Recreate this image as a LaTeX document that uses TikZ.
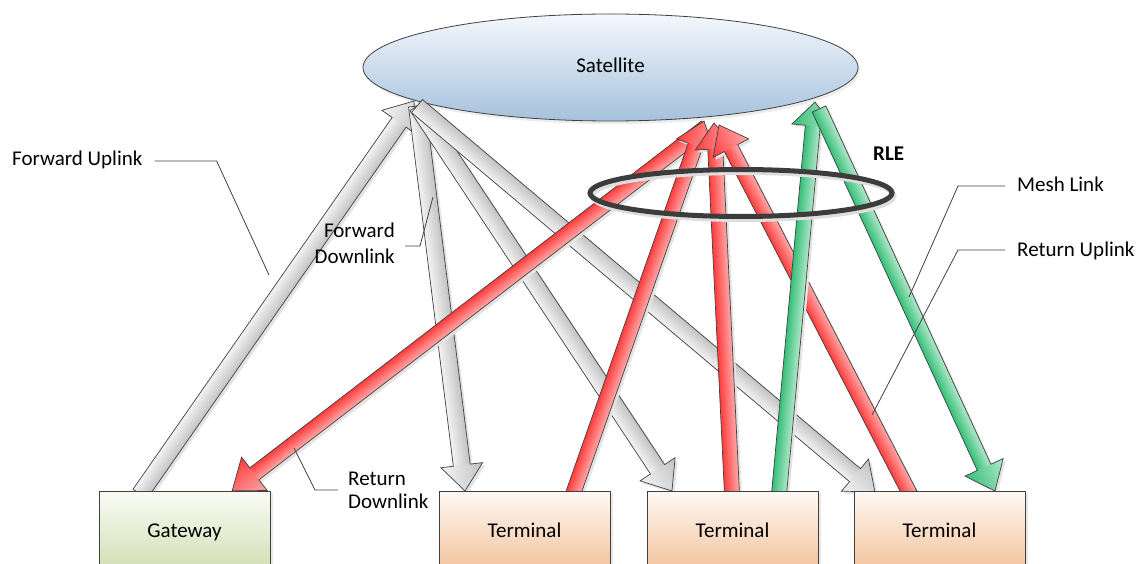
\documentclass[tikz,border=0pt]{standalone}
\usepackage{fontspec}
\setmainfont{Carlito}
\usetikzlibrary{calc,shapes.geometric,shadows}

\definecolor{edge}{HTML}{404040}
\definecolor{ringc}{HTML}{3C3C3C}
\definecolor{satTop}{HTML}{F4F8FC}
\definecolor{satBot}{HTML}{A6C1DD}
\definecolor{gwTop}{HTML}{FAFBF5}
\definecolor{gwBot}{HTML}{D2DFB4}
\definecolor{tTop}{HTML}{FEF9F4}
\definecolor{tBot}{HTML}{F3C29B}
\definecolor{grayA}{HTML}{C2C2C2}
\definecolor{grayB}{HTML}{F3F3F3}
\definecolor{redA}{HTML}{FF3C3C}
\definecolor{redB}{HTML}{FFAAAA}
\definecolor{grnA}{HTML}{35BF78}
\definecolor{grnB}{HTML}{B2E8CA}

% Block arrow: #1 fill family, #2 tail coordinate, #3 tip coordinate,
% #4 shaft width, #5 head width, #6 head length.
% The family provides "<name> up" and "<name> down" shadings so that
% the gradient runs the same way on screen whatever the arrow direction.
\newcommand\blockarrow[6]{%
  \pgfmathanglebetweenpoints{\pgfpointanchor{#2}{center}}{\pgfpointanchor{#3}{center}}%
  \let\baAng\pgfmathresult
  \ifdim\baAng pt>180pt \def\baDir{down}\else\def\baDir{up}\fi
  \tikzset{bafill/.style/.expanded={#1 \baDir}}%
  \pgfpointdiff{\pgfpointanchor{#2}{center}}{\pgfpointanchor{#3}{center}}%
  \pgfgetlastxy{\baDx}{\baDy}%
  \pgfmathsetmacro\baLen{veclen(\baDx,\baDy)}%
  \pgfmathsetmacro\baNeck{\baLen-#6}%
  \pgfmathsetmacro\baS{#4/2}%
  \pgfmathsetmacro\baH{#5/2}%
  \begin{scope}[transform canvas={shift={($(#2)+(2.5,2.5)$)},rotate=\baAng}]
    \fill[black!11] (0pt,-\baS pt) -- (\baNeck pt,-\baS pt) -- (\baNeck pt,-\baH pt)
      -- (\baLen pt,0pt) -- (\baNeck pt,\baH pt) -- (\baNeck pt,\baS pt) -- (0pt,\baS pt) -- cycle;
  \end{scope}
  \begin{scope}[transform canvas={shift={(#2)},rotate=\baAng}]
    \shade[bafill] (0pt,-\baS pt) rectangle (\baNeck pt+0.5pt,\baS pt);
    \shade[bafill] (\baNeck pt,-\baH pt) -- (\baLen pt,0pt) -- (\baNeck pt,\baH pt) -- cycle;
    \draw[aedge] (0pt,-\baS pt) -- (\baNeck pt,-\baS pt) -- (\baNeck pt,-\baH pt)
      -- (\baLen pt,0pt) -- (\baNeck pt,\baH pt) -- (\baNeck pt,\baS pt) -- (0pt,\baS pt) -- cycle;
  \end{scope}
}

\tikzset{
  aedge/.style={draw=edge, line width=0.7pt, line join=miter},
  gray up/.style={top color=grayB, bottom color=grayA},
  gray down/.style={top color=grayA, bottom color=grayB},
  red up/.style={top color=redA, bottom color=redB},
  red down/.style={top color=redB, bottom color=redA},
  green up/.style={top color=grnA, bottom color=grnB},
  green down/.style={top color=grnB, bottom color=grnA},
  leader/.style={draw=edge, line width=0.8pt},
  lbl/.style={inner sep=0pt, text=black},
  box/.style={draw=edge, line width=0.8pt, minimum width=171pt, minimum height=80pt,
    inner sep=0pt, text height=13pt, text depth=0pt,
    drop shadow={shadow xshift=3pt, shadow yshift=-2pt, opacity=0.18}},
  gwbox/.style={box, top color=gwTop, bottom color=gwBot},
  tbox/.style={box, top color=tTop, bottom color=tBot},
}

\begin{document}
\begin{tikzpicture}[x=1pt, y=-1pt, font=\fontsize{21}{25}\selectfont]
\useasboundingbox (0,0) rectangle (1138,564);

% satellite
\node[ellipse, draw=edge, line width=0.8pt, top color=satTop, bottom color=satBot,
  minimum width=495pt, minimum height=107pt, inner sep=0pt, text height=11pt, text depth=0pt,
  drop shadow={shadow xshift=2pt, shadow yshift=-3pt, opacity=0.15}]
  (sat) at (610.5,67.5) {Satellite};

% ground stations (positions only; drawn after the links)
\coordinate (gwC) at (184.5,531);
\coordinate (t1C) at (524.5,531);
\coordinate (t2C) at (732.5,531);
\coordinate (t3C) at (939.5,531);

% link end points
\coordinate (fuTail) at (140,494);
\coordinate (fuTip)  at (414,101);
\coordinate (fdTail) at (417,106);
\coordinate (fd1Tip) at (465,491);
\coordinate (fd2Tip) at (672,491);
\coordinate (fd3Tip) at (875,492);
\coordinate (ru1Tail) at (573,494);
\coordinate (ru2Tail) at (732,494);
\coordinate (ru3Tail) at (910,494);
\coordinate (ru1Tip) at (704,121);
\coordinate (ru2Tip) at (714,123);
\coordinate (ru3Tip) at (719,125);
\coordinate (rdTail) at (706,127);
\coordinate (rdTip)  at (232,491);
\coordinate (mlTail) at (779,494);
\coordinate (mlTip)  at (815,102);
\coordinate (mdTail) at (819,109);
\coordinate (mdTip)  at (995,491);

% forward links
\blockarrow{gray}{fuTail}{fuTip}{17}{42}{26}
\blockarrow{gray}{fdTail}{fd1Tip}{17}{42}{26}
\blockarrow{gray}{fdTail}{fd2Tip}{17}{42}{26}
\blockarrow{gray}{fdTail}{fd3Tip}{17}{42}{26}

% return links
\blockarrow{red}{rdTail}{rdTip}{15}{42}{28}
\blockarrow{red}{ru1Tail}{ru1Tip}{15}{40}{26}
\blockarrow{red}{ru2Tail}{ru2Tip}{15}{40}{26}
\blockarrow{red}{ru3Tail}{ru3Tip}{15}{40}{26}

% mesh links
\blockarrow{green}{mlTail}{mlTip}{15}{42}{24}
\blockarrow{green}{mdTail}{mdTip}{15}{42}{26}

% ground stations
\node[gwbox] (gw) at (gwC) {Gateway};
\node[tbox] (t1) at (t1C) {Terminal};
\node[tbox] (t2) at (t2C) {Terminal};
\node[tbox] (t3) at (t3C) {Terminal};

% RLE ring
\node[ellipse, draw=ringc, line width=5pt, minimum width=302pt, minimum height=47pt,
  preaction={draw=black!13, line width=5pt, transform canvas={shift={(2pt,-3pt)}}}]
  (rle) at (741,193) {};
\node[lbl, anchor=base west, font=\fontsize{21}{25}\selectfont\bfseries] (lrle) at (873,161) {RLE};

% labels
\node[lbl, anchor=base west] (lfu) at (12,166) {Forward Uplink};
\node[lbl, anchor=base east] (lfd1) at (395,238) {Forward};
\node[lbl, anchor=base east] (lfd2) at (395,263) {Downlink};
\node[lbl, anchor=base west] (lrd1) at (348,485) {Return};
\node[lbl, anchor=base west] (lrd2) at (348,508) {Downlink};
\node[lbl, anchor=base west] (lml) at (1017,192) {Mesh Link};
\node[lbl, anchor=base west] (lru) at (1017,256) {Return Uplink};

% callout leaders
\coordinate (fuEnd) at (269,275);
\coordinate (fdEnd) at (433,197);
\coordinate (rdEnd) at (294,448);
\coordinate (mlEnd) at (909,297);
\coordinate (ruEnd) at (872,415);
\draw[leader] ($(lfu.base east)+(12,-5)$) -- ++(62,0) -- (fuEnd);
\draw[leader] ($(lfd1.base east)+(10,8)$) -- ++(15,0) -- (fdEnd);
\draw[leader] ($(lrd1.base west)+(-10,5)$) -- ++(-23,0) -- (rdEnd);
\draw[leader] ($(lml.base west)+(-12,-6)$) -- ++(-47,0) -- (mlEnd);
\draw[leader] ($(lru.base west)+(-12,-6)$) -- ++(-47,0) -- (ruEnd);
\end{tikzpicture}
\end{document}
